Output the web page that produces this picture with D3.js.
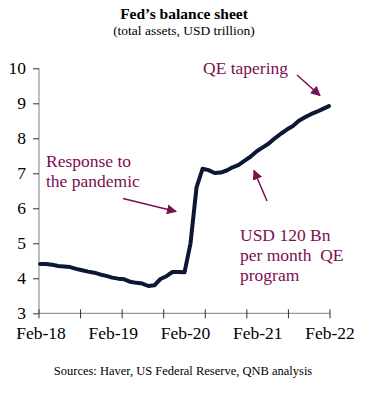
<!doctype html>
<html>
<head>
    <style>
        body { margin: 0; background: #fff; }
        svg, svg text, svg tspan { font-family: "Liberation Serif", "Times New Roman", serif; }
    </style>
    <script src="https://d3js.org/d3.v7.min.js"></script>
</head>
<body>
<script>
    // monthly total assets, Feb-18 .. Feb-22 (USD trillion)
    var months = d3.range(49);
    var assets = [
        4.41, 4.41, 4.39, 4.35, 4.34, 4.32, 4.27, 4.23, 4.19, 4.16, 4.11, 4.07,
        4.02, 3.99, 3.97, 3.90, 3.87, 3.85, 3.78, 3.80, 3.98, 4.06, 4.18, 4.18,
        4.17, 5.00, 6.60, 7.13, 7.09, 7.01, 7.02, 7.08, 7.17, 7.24, 7.36, 7.48,
        7.63, 7.74, 7.85, 8.00, 8.13, 8.25, 8.35, 8.50, 8.60, 8.69, 8.76, 8.84,
        8.92
    ];
    var xLabels = ["Feb-18", "Feb-19", "Feb-20", "Feb-21", "Feb-22"];
    var xLabelMonths = [0, 12, 24, 36, 48];
    var yTicks = [3, 4, 5, 6, 7, 8, 9, 10];

    var width = 372, height = 401;
    var accent = "#7a1050";
    var serif = "'Liberation Serif', 'Times New Roman', serif";

    var svg = d3.select("body").append("svg")
        .attr("width", width)
        .attr("height", height)
        .attr("font-family", serif);

    var x = d3.scaleLinear().domain([0, 48]).range([40, 329]);
    var xAxisScale = d3.scaleLinear().domain([0, 7]).range([39, 330]);
    var y = d3.scaleLinear().domain([3, 10]).range([313.3, 68.3]);

    // titles
    svg.append("text").attr("x", 184).attr("y", 19)
        .attr("text-anchor", "middle").style("font-size", "15.5px").style("font-weight", "bold")
        .text("Fed\u2019s balance sheet");
    svg.append("text").attr("x", 184).attr("y", 35)
        .attr("text-anchor", "middle").style("font-size", "13.5px")
        .text("(total assets, USD trillion)");

    // y axis
    var yAxis = d3.axisLeft(y).tickValues(yTicks).tickFormat(d3.format("d"))
        .tickSize(6).tickPadding(7);
    var gy = svg.append("g").attr("transform", "translate(39,0)").call(yAxis)
        .attr("font-family", serif);
    gy.select(".domain").attr("stroke", "#808080").attr("d", "M0," + y(10) + "V" + y(3));
    gy.selectAll(".tick line").attr("stroke", "#333").attr("x1", -6).attr("x2", 0);
    gy.selectAll(".tick text").style("font-size", "17.5px").attr("fill", "#000");

    // x axis: 8 tick marks, yearly labels
    var gx = svg.append("g");
    gx.append("line").attr("x1", xAxisScale(0)).attr("x2", xAxisScale(7))
        .attr("y1", y(3)).attr("y2", y(3)).attr("stroke", "#808080");
    gx.selectAll("line.tk").data(d3.range(8)).enter().append("line")
        .attr("class", "tk")
        .attr("x1", function (d) { return xAxisScale(d); })
        .attr("x2", function (d) { return xAxisScale(d); })
        .attr("y1", y(3) - 4).attr("y2", y(3) + 5)
        .attr("stroke", "#333");
    gx.selectAll("text").data(xLabels).enter().append("text")
        .attr("x", function (d, i) { return x(xLabelMonths[i]) + 1; })
        .attr("y", 339)
        .attr("text-anchor", "middle")
        .style("font-size", "17.5px")
        .text(function (d) { return d; });

    // line
    var line = d3.line()
        .x(function (d, i) { return x(months[i]); })
        .y(function (d) { return y(d); });
    svg.append("path").datum(assets)
        .attr("d", line)
        .attr("fill", "none")
        .attr("stroke", "#0b1735")
        .attr("stroke-width", 4)
        .attr("stroke-linejoin", "round")
        .attr("stroke-linecap", "round");

    // annotations
    svg.append("defs").append("marker")
        .attr("id", "head").attr("viewBox", "0 0 10 10")
        .attr("refX", 9).attr("refY", 5)
        .attr("markerWidth", 10).attr("markerHeight", 10)
        .attr("markerUnits", "userSpaceOnUse")
        .attr("orient", "auto")
        .append("path").attr("d", "M0,0L10,5L0,10Z").attr("fill", accent);

    function note(lines, tx, ty) {
        var t = svg.append("text").attr("x", tx).attr("y", ty)
            .attr("fill", accent).style("font-size", "17.5px");
        lines.forEach(function (s, i) {
            t.append("tspan").attr("x", tx).attr("y", ty + i * 20).text(s);
        });
    }
    function arrow(x1, y1, x2, y2) {
        svg.append("line").attr("x1", x1).attr("y1", y1).attr("x2", x2).attr("y2", y2)
            .attr("stroke", accent).attr("stroke-width", 1.5)
            .attr("marker-end", "url(#head)");
    }

    note(["Response to", "the pandemic"], 46, 167);
    arrow(123, 198.5, 176, 211.5);

    note(["QE tapering"], 203, 73.5);
    arrow(297, 75, 320, 95.5);

    note(["USD 120 Bn", "per month \u00a0QE", "program"], 240, 241);
    arrow(267, 201, 254, 170.5);

    // source
    svg.append("text").attr("x", 183).attr("y", 375)
        .attr("text-anchor", "middle").style("font-size", "12.5px")
        .text("Sources: Haver, US Federal Reserve, QNB analysis");
</script>
</body>
</html>
